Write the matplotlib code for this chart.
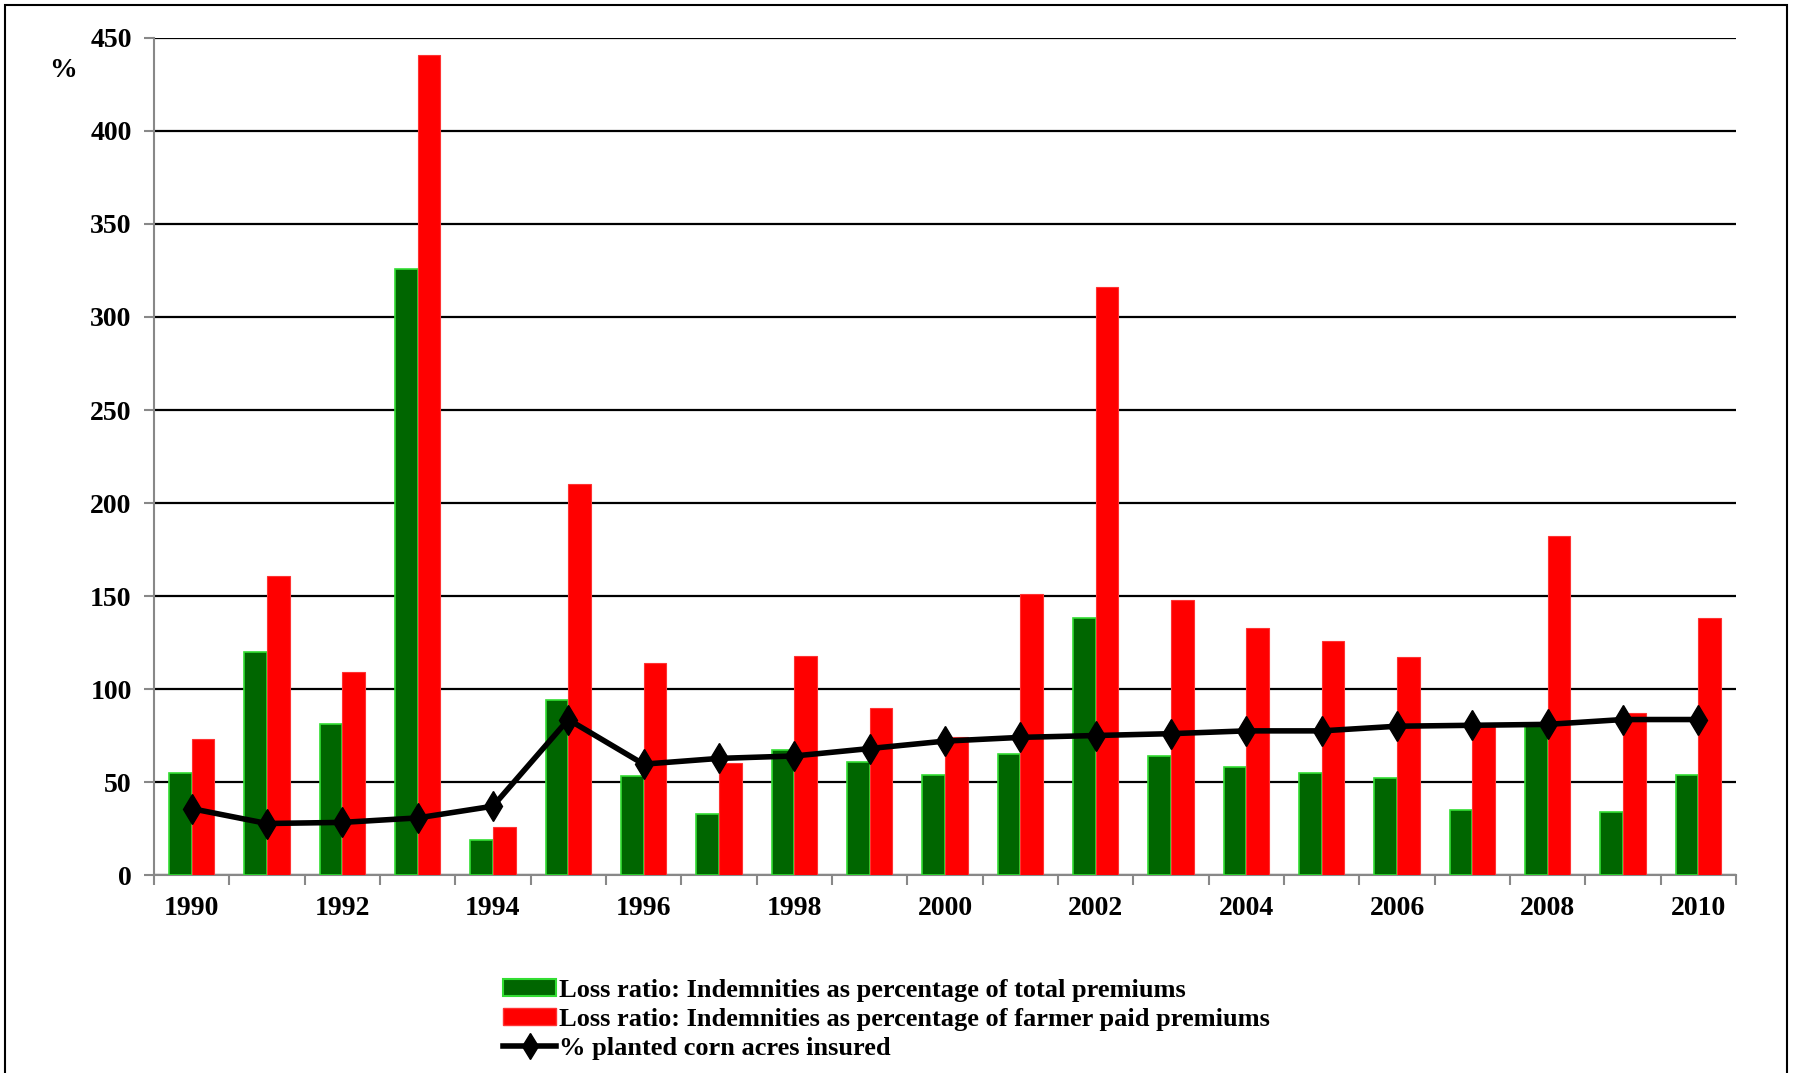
import matplotlib
matplotlib.use("Agg")
import matplotlib.pyplot as plt
from matplotlib.lines import Line2D
from matplotlib.patches import Patch, Rectangle
import numpy as np

years = list(range(1990, 2011))
loss_total = [55, 120, 81, 326, 19, 94, 53, 33, 67, 61, 54, 65, 138, 64, 58, 55, 52, 35, 81, 34, 54]
loss_farmer = [73, 161, 109, 441, 26, 210, 114, 60, 118, 90, 74, 151, 316, 148, 133, 126, 117, 80, 182, 87, 138]
pct_insured = [35.7, 27.7, 28.3, 30.7, 37, 83.6, 59.6, 62.7, 64, 68, 72, 74, 75, 76, 77.5, 77.5, 80, 80.5, 81, 83.6, 83.6]
yticks = [0, 50, 100, 150, 200, 250, 300, 350, 400, 450]
labels = ["Loss ratio: Indemnities as percentage of total premiums",
          "Loss ratio: Indemnities as percentage of farmer paid premiums",
          "% planted corn acres insured"]

plt.rcParams['font.family'] = ['Liberation Serif', 'DejaVu Serif']
plt.rcParams['font.weight'] = 'bold'

fig = plt.figure(figsize=(17.94, 10.73), dpi=100)
ax = fig.add_axes([0.0858, 0.1845, 0.8819, 0.7801])

x = np.arange(len(years))
w = 0.3
ax.bar(x - w / 2, loss_total, w, color='#006600', edgecolor='#33dd33', linewidth=1.2, zorder=3)
ax.bar(x + w / 2, loss_farmer, w, color='#ff0000', edgecolor='#ff3333', linewidth=0.8, zorder=3)
ax.plot(x, pct_insured, color='black', linewidth=4, marker='d', markersize=15, zorder=4)

ax.set_xlim(-0.5, len(years) - 0.5)
ax.set_ylim(0, 450)
ax.set_yticks(yticks)
ax.yaxis.grid(True, color='black', linewidth=1.6, zorder=1)
ax.set_axisbelow(True)
for s in ['top', 'right']:
    ax.spines[s].set_visible(False)
for s in ['left', 'bottom']:
    ax.spines[s].set_color('#888888')
    ax.spines[s].set_linewidth(1.5)
ax.tick_params(axis='y', length=7, width=1.5, color='#888888', labelsize=20, pad=9)

ax.set_xticks(x[::2])
ax.set_xticklabels([str(y) for y in years[::2]])
ax.set_xticks(np.arange(-0.5, len(years), 1.0), minor=True)
ax.tick_params(axis='x', which='major', length=0, labelsize=20, pad=15)
ax.tick_params(axis='x', which='minor', length=7, width=1.5, color='#888888')
for t in ax.get_xticklabels() + ax.get_yticklabels():
    t.set_fontweight('bold')

fig.text(0.035, 0.934, '%', fontsize=20, fontweight='bold', ha='center', va='center')

handles = [Patch(facecolor='#006600', edgecolor='#33dd33', linewidth=1.5),
           Patch(facecolor='#ff0000', edgecolor='#ff3333'),
           Line2D([], [], color='black', linewidth=4, marker='d', markersize=13)]
fig.legend(handles, labels, loc='upper left', bbox_to_anchor=(0.2806, 0.088), frameon=False,
           prop={'size': 19, 'weight': 'bold'}, handlelength=2.0, handletextpad=0.12,
           labelspacing=0.24, borderpad=0, borderaxespad=0, handleheight=0.6)

fig.patches.append(Rectangle((0.003, -0.05), 0.993, 1.045, transform=fig.transFigure,
                             fill=False, edgecolor='black', linewidth=1.5))

fig.savefig('out.png', dpi=100)
